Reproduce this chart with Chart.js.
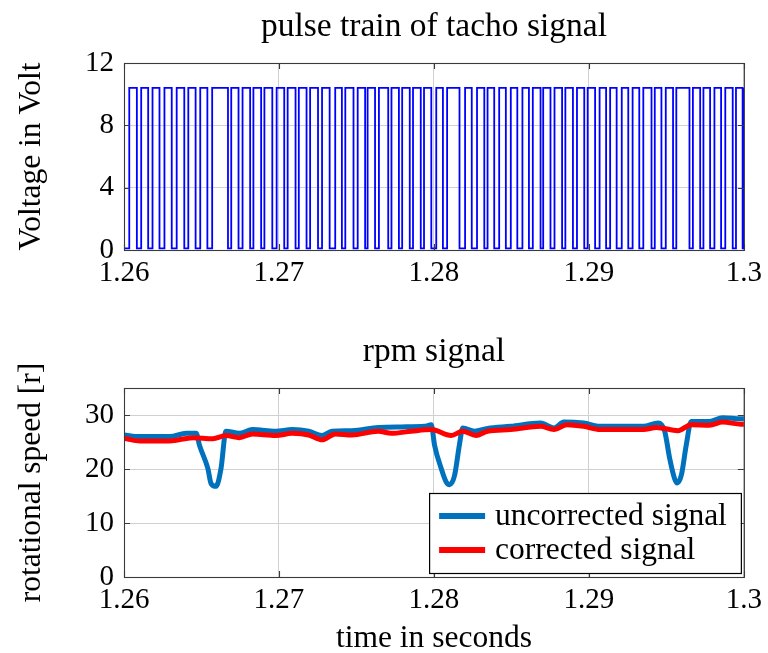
<!DOCTYPE html>
<html><head><meta charset="utf-8">
<script src="https://cdn.jsdelivr.net/npm/chart.js@4.4.1/dist/chart.umd.min.js"></script>
<style>
html,body{margin:0;padding:0;background:#fff;}
#wrap{position:relative;width:768px;height:653px;overflow:hidden;}
#c1{position:absolute;left:0;top:0;}
#c2{position:absolute;left:0;top:325px;}
</style></head><body>
<div id="wrap">
<canvas id="c1" width="768" height="325"></canvas>
<canvas id="c2" width="768" height="328"></canvas>
</div>
<script>
// ---------- data ----------
const xTickValues = [1.26, 1.27, 1.28, 1.29, 1.30];
const xTickLabels = ['1.26', '1.27', '1.28', '1.29', '1.3'];
const voltTickValues = [0, 4, 8, 12];
const voltTickLabels = ['0', '4', '8', '12'];
const rpmTickValues = [0, 10, 20, 30];
const rpmTickLabels = ['0', '10', '20', '30'];

const pulseHigh = 10.4;
const pulseLow = 0.1;
const riseTimes = [1.26034,1.26111,1.26184,1.26261,1.26340,1.26415,1.26492,1.26569,1.26692,1.26765,
  1.26835,1.26906,1.26985,1.27056,1.27128,1.27201,1.27278,1.27363,1.27428,1.27508,
  1.27572,1.27645,1.27726,1.27795,1.27865,1.27936,1.28015,1.28085,1.28201,1.28278,
  1.28346,1.28421,1.28496,1.28571,1.28638,1.28705,1.28778,1.28848,1.28923,1.28992,
  1.29069,1.29137,1.29212,1.29282,1.29351,1.29425,1.29496,1.29564,1.29671,1.29739,
  1.29810,1.29880,1.29949,1.29997];
const fallTimes = [1.26083,1.26156,1.26229,1.26308,1.26389,1.26462,1.26538,1.26671,1.26739,1.26814,
  1.26885,1.26957,1.27034,1.27107,1.27178,1.27252,1.27327,1.27406,1.27481,1.27556,
  1.27620,1.27705,1.27774,1.27844,1.27915,1.27983,1.28058,1.28165,1.28244,1.28325,
  1.28389,1.28464,1.28538,1.28613,1.28688,1.28752,1.28827,1.28897,1.28970,1.29040,
  1.29111,1.29179,1.29254,1.29325,1.29404,1.29468,1.29543,1.29649,1.29718,1.29782,
  1.29853,1.29928,1.29992];

const uncorrTime = [1.26,1.26103,1.26295,1.26402,1.26466,1.26487,1.26541,1.26562,1.26594,1.26626,
  1.26658,1.26744,1.26829,1.26979,1.27085,1.27192,1.27278,1.27342,1.27470,1.27641,
  1.27790,1.27940,1.27983,1.28004,1.28047,1.28079,1.28101,1.28133,1.28164,1.28186,
  1.28261,1.28346,1.28496,1.28688,1.28774,1.28838,1.28966,1.29073,1.29351,1.29447,
  1.29489,1.29521,1.29553,1.29569,1.29596,1.29628,1.29660,1.29778,1.29863,1.29981,1.30];
const uncorrValues = [26.3,26.0,26.0,26.6,26.6,24.4,20.1,17.3,16.8,20.1,
  27.0,26.6,27.3,27.0,27.3,27.0,26.2,27.0,27.1,27.7,
  27.8,27.9,28.2,24.4,20.1,17.6,17.1,18.8,24.4,27.6,
  27.0,27.5,27.9,28.5,27.6,28.7,28.5,27.9,27.9,28.5,
  27.0,22.0,18.2,17.4,18.8,24.4,28.8,28.8,29.5,29.3,29.3];
const corrTime = [1.26,1.26103,1.26295,1.26444,1.26573,1.26658,1.26744,1.26829,1.26979,1.27085,
  1.27192,1.27278,1.27363,1.27470,1.27641,1.27726,1.27854,1.27983,1.28111,1.28186,
  1.28271,1.28346,1.28496,1.28688,1.28774,1.28859,1.28966,1.29073,1.29351,1.29436,
  1.29575,1.29660,1.29778,1.29863,1.29981,1.30];
const corrValues = [25.7,25.2,25.2,25.8,25.6,26.2,25.8,26.5,26.2,26.6,
  26.3,25.4,26.5,26.3,27.0,26.6,27.0,27.3,26.2,27.0,
  26.2,27.0,27.3,27.9,27.3,28.2,27.9,27.3,27.3,27.7,
  27.1,28.2,28.1,28.7,28.3,28.3];

// ---------- build ----------
const FONT = "'Liberation Serif', 'Times New Roman', serif";
const FS_TICK = 29;
const FS_TEXT = 31.5;
const FS_TITLE = 33.5;
const X_MIN = 1.26, X_MAX = 1.30;

const pulsePts = [{x: X_MIN, y: pulseLow}];
riseTimes.forEach((r, i) => {
  pulsePts.push({x: r, y: pulseLow}, {x: r, y: pulseHigh});
  if (i < fallTimes.length) {
    pulsePts.push({x: fallTimes[i], y: pulseHigh}, {x: fallTimes[i], y: pulseLow});
  } else {
    pulsePts.push({x: X_MAX, y: pulseHigh});
  }
});
const uncorrPts = uncorrTime.map((t, i) => ({x: t, y: uncorrValues[i]}));
const corrPts = corrTime.map((t, i) => ({x: t, y: corrValues[i]}));

const GRID = '#d0d0d0';
const FRAME = '#3a3a3a';

const framePlugin = {
  id: 'frame',
  afterDatasetsDraw(chart) {
    const {ctx, chartArea: a, scales} = chart;
    ctx.save();
    ctx.strokeStyle = FRAME;
    ctx.lineWidth = 1.1;
    ctx.beginPath();
    const TL = 6;
    scales.x.ticks.forEach(t => {
      const px = Math.round(scales.x.getPixelForValue(t.value)) + 0.5;
      ctx.moveTo(px, a.bottom); ctx.lineTo(px, a.bottom - TL);
      ctx.moveTo(px, a.top); ctx.lineTo(px, a.top + TL);
    });
    scales.y.ticks.forEach(t => {
      const py = Math.round(scales.y.getPixelForValue(t.value)) + 0.5;
      ctx.moveTo(a.left, py); ctx.lineTo(a.left + TL, py);
      ctx.moveTo(a.right, py); ctx.lineTo(a.right - TL, py);
    });
    ctx.stroke();
    ctx.strokeRect(a.left + 0.5, a.top + 0.5, a.right - a.left, a.bottom - a.top);
    ctx.restore();
  }
};

const legendPlugin = {
  id: 'boxLegend',
  afterDraw(chart) {
    const {ctx, chartArea: a} = chart;
    const ds = chart.data.datasets;
    ctx.save();
    ctx.font = FS_TEXT + 'px ' + FONT;
    const textW = Math.max(...ds.map(d => ctx.measureText(d.label).width));
    const sample = 46, gap = 10, padL = 10, padR = 14, rowH = 34, padV = 6;
    const w = padL + sample + gap + textW + padR;
    const h = padV * 2 + rowH * ds.length;
    const x0 = a.right - 3 - w, y0 = a.bottom - 4 - h;
    ctx.fillStyle = '#fff';
    ctx.fillRect(x0, y0, w, h);
    ctx.strokeStyle = '#000';
    ctx.lineWidth = 1.2;
    ctx.strokeRect(x0 + 0.5, y0 + 0.5, w, h);
    ds.forEach((d, i) => {
      const cy = y0 + padV + rowH * i + rowH / 2;
      ctx.strokeStyle = d.borderColor;
      ctx.lineWidth = 6;
      ctx.beginPath();
      ctx.moveTo(x0 + padL, cy); ctx.lineTo(x0 + padL + sample, cy);
      ctx.stroke();
      ctx.fillStyle = '#000';
      ctx.textBaseline = 'middle';
      ctx.textAlign = 'left';
      ctx.fillText(d.label, x0 + padL + sample + gap, cy + 1);
    });
    ctx.restore();
  }
};

function xScale(height, title) {
  return {
    type: 'linear', min: X_MIN, max: X_MAX,
    afterBuildTicks: s => { s.ticks = xTickValues.map(v => ({value: v})); },
    afterFit: s => { s.height = height; },
    grid: {color: GRID, lineWidth: 1, drawTicks: false},
    border: {display: false},
    ticks: {
      callback: (v, i) => xTickLabels[i],
      font: {family: FONT, size: FS_TICK}, color: '#000', padding: 6,
      maxRotation: 0, autoSkip: false
    },
    title: title ? {display: true, text: title, color: '#000',
      font: {family: FONT, size: FS_TEXT, lineHeight: 1}, padding: {top: 0, bottom: -1}} : {display: false}
  };
}
function yScale(min, max, vals, labels, title) {
  return {
    type: 'linear', min: min, max: max,
    afterBuildTicks: s => { s.ticks = vals.map(v => ({value: v})); },
    afterFit: s => { s.width = 124; },
    grid: {color: GRID, lineWidth: 1, drawTicks: false},
    border: {display: false},
    ticks: {
      callback: (v, i) => labels[i],
      font: {family: FONT, size: FS_TICK}, color: '#000', padding: 10
    },
    title: {display: true, text: title, color: '#000',
      font: {family: FONT, size: FS_TEXT, lineHeight: 1}, padding: {top: 16, bottom: 0}}
  };
}
function titleOpt(text) {
  return {display: true, text: text, color: '#000', fullSize: false,
    font: {family: FONT, size: FS_TITLE, weight: 'normal', lineHeight: 1.2}, padding: {top: 7, bottom: 15.8}};
}

new Chart(document.getElementById('c1'), {
  type: 'line',
  data: {datasets: [{
    label: 'pulse', data: pulsePts, borderColor: '#0000ff', borderWidth: 1.8,
    pointRadius: 0, tension: 0, fill: false
  }]},
  options: {
    responsive: false, animation: false,
    layout: {padding: {left: 0, right: 20, top: 0, bottom: 0}},
    plugins: {legend: {display: false}, tooltip: {enabled: false}, title: titleOpt('pulse train of tacho signal')},
    scales: {
      x: xScale(75, null),
      y: yScale(0, 12, voltTickValues, voltTickLabels, 'Voltage in Volt')
    }
  },
  plugins: [framePlugin]
});

new Chart(document.getElementById('c2'), {
  type: 'line',
  data: {datasets: [
    {label: 'uncorrected signal', data: uncorrPts, borderColor: 'rgb(0,114,189)', borderWidth: 5,
     pointRadius: 0, cubicInterpolationMode: 'monotone', fill: false, order: 1},
    {label: 'corrected signal', data: corrPts, borderColor: 'rgb(255,0,0)', borderWidth: 5,
     pointRadius: 0, cubicInterpolationMode: 'monotone', fill: false, order: 0}
  ]},
  options: {
    responsive: false, animation: false,
    layout: {padding: {left: 0, right: 20, top: 0, bottom: 0}},
    plugins: {legend: {display: false}, tooltip: {enabled: false}, title: titleOpt('rpm signal')},
    scales: {
      x: xScale(76, 'time in seconds'),
      y: yScale(0, 35, rpmTickValues, rpmTickLabels, 'rotational speed [r]')
    }
  },
  plugins: [framePlugin, legendPlugin]
});
</script>
</body></html>
